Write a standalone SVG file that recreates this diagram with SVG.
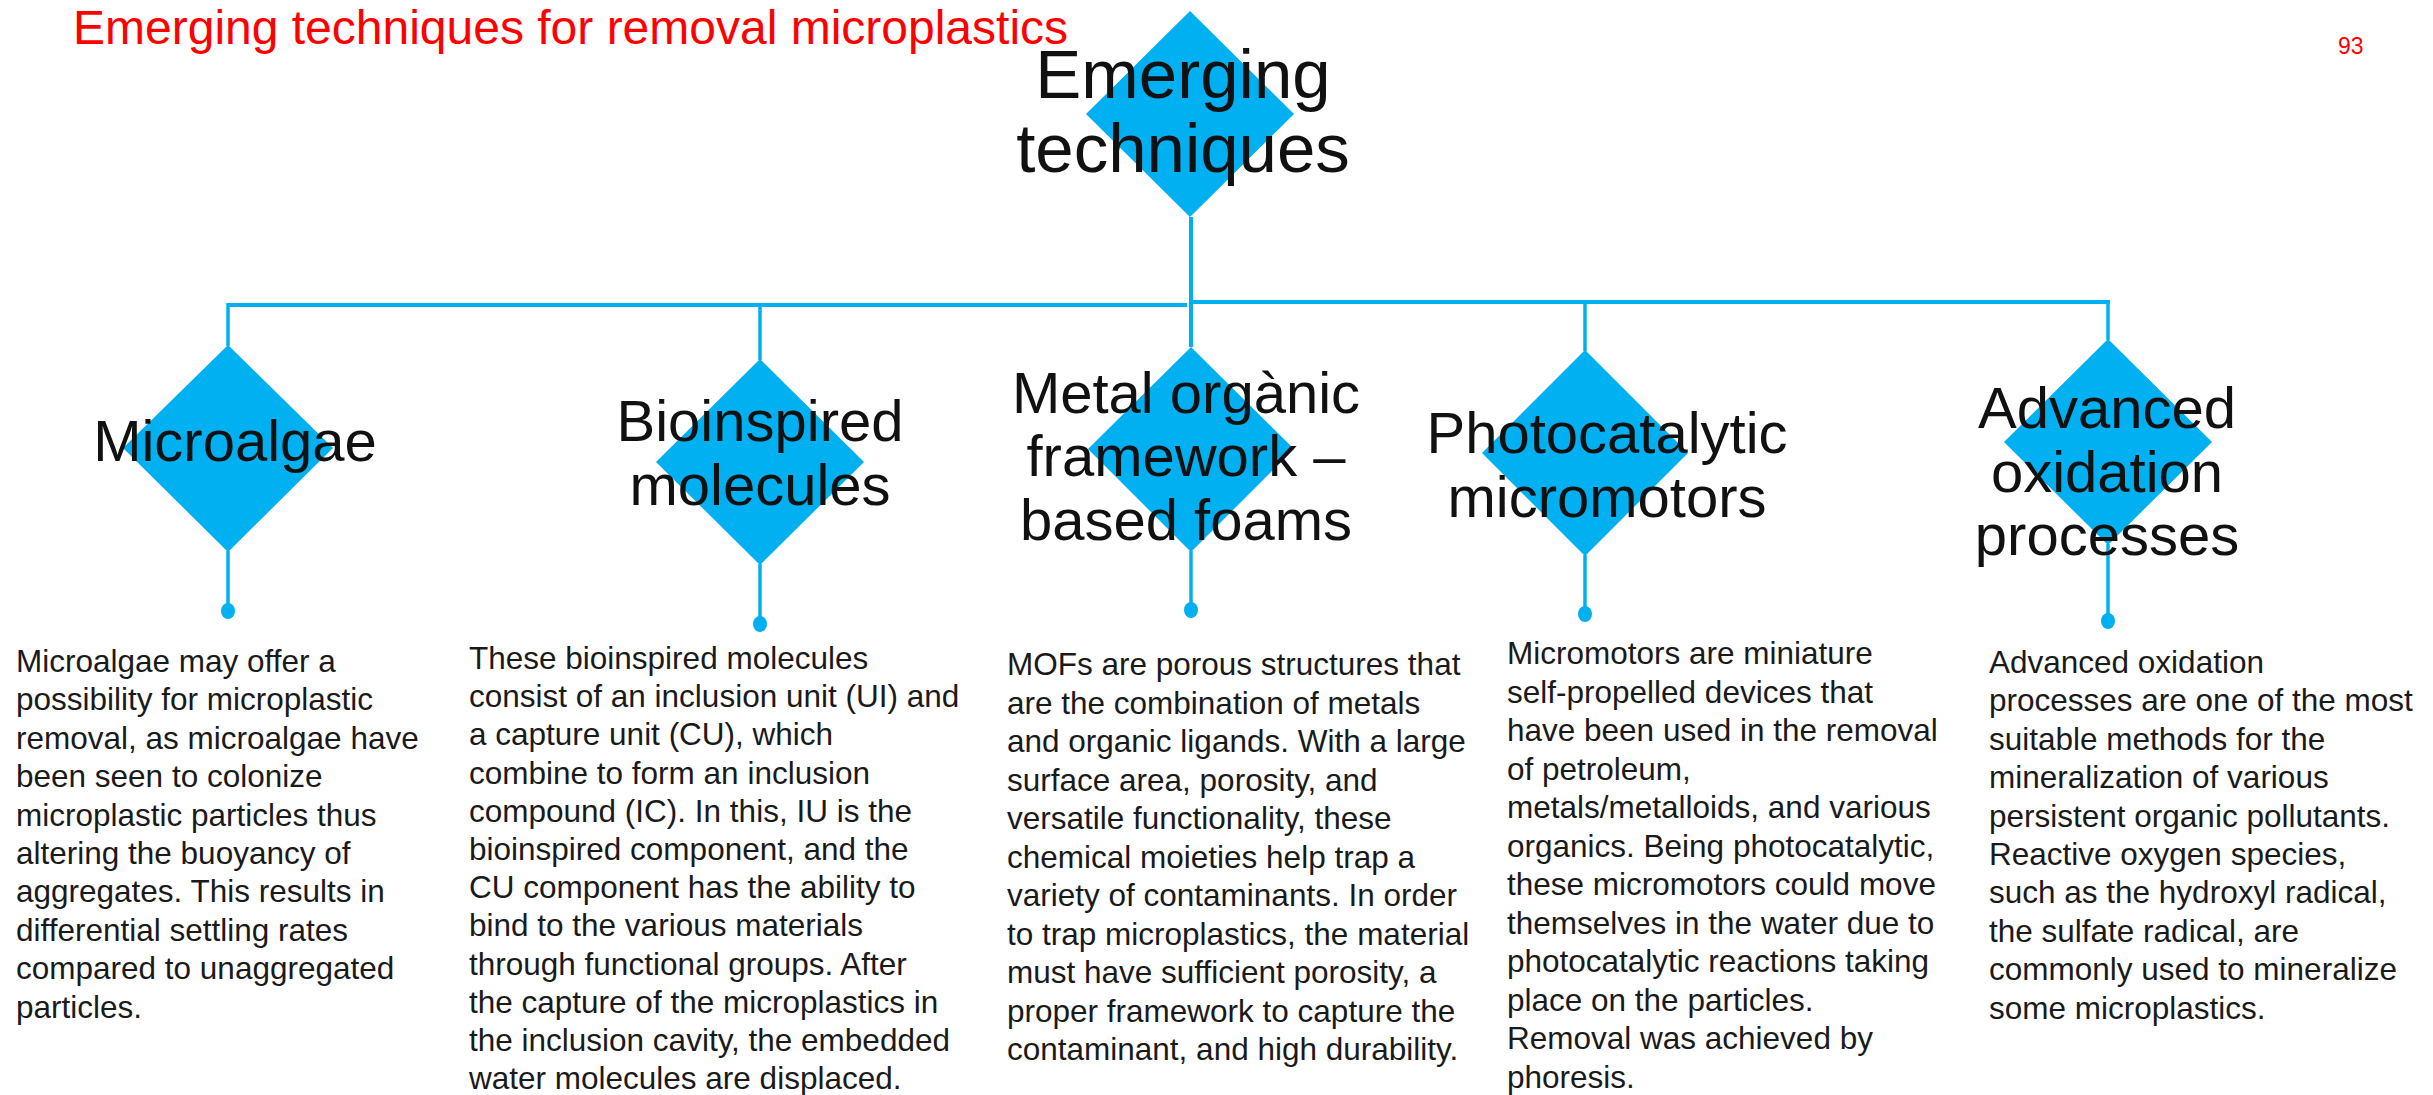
<svg xmlns="http://www.w3.org/2000/svg" width="2433" height="1095" viewBox="0 0 2433 1095">
  <style>
    .dia { fill: #00B0F0; }
    .ln { stroke: #00B0F0; stroke-width: 4; fill: none; }
    .st { stroke: #00B0F0; stroke-width: 3.5; fill: none; }
    .dot { fill: #00B0F0; }
    .lbl { font-family: "Liberation Sans", Arial, sans-serif; font-size: 58px; fill: #111; text-anchor: middle; }
    .top { font-family: "Liberation Sans", Arial, sans-serif; font-size: 69px; fill: #111; text-anchor: middle; }
    .body { font-family: "Liberation Sans", Arial, sans-serif; font-size: 31.5px; fill: #1a1a1a; }
    .red { font-family: "Liberation Sans", Arial, sans-serif; fill: #FF0000; }
  </style>
  <rect width="2433" height="1095" fill="#fff"/>

  <text class="red" x="73" y="44" font-size="48">Emerging techniques for removal microplastics</text>
  <text class="red" x="2338" y="54" font-size="23">93</text>

  <g id="connectors">
    <line class="ln" x1="1191" y1="217" x2="1191" y2="347"/>
    <line class="ln" x1="228" y1="305" x2="1187" y2="305"/>
    <line class="ln" x1="1189" y1="302" x2="2110" y2="302"/>
    <line class="st" x1="228" y1="303" x2="228" y2="346"/>
    <line class="st" x1="760" y1="303" x2="760" y2="360"/>
    <line class="st" x1="1585" y1="300" x2="1585" y2="351"/>
    <line class="st" x1="2108" y1="300" x2="2108" y2="340"/>
    <line class="st" x1="228" y1="551" x2="228" y2="611"/>
    <line class="st" x1="760" y1="564" x2="760" y2="624"/>
    <line class="st" x1="1191" y1="551" x2="1191" y2="610"/>
    <line class="st" x1="1585" y1="555" x2="1585" y2="614"/>
    <line class="st" x1="2108" y1="544" x2="2108" y2="621"/>
    <ellipse class="dot" cx="228" cy="611" rx="7" ry="8"/>
    <ellipse class="dot" cx="760" cy="624" rx="7" ry="8"/>
    <ellipse class="dot" cx="1191" cy="610" rx="7" ry="8"/>
    <ellipse class="dot" cx="1585" cy="614" rx="7" ry="8"/>
    <ellipse class="dot" cx="2108" cy="621" rx="7" ry="8"/>
  </g>

  <g id="node-emerging">
    <polygon class="dia" points="1190,11 1294,114 1190,217 1086,114"/>
    <text class="top"><tspan x="1183" y="98">Emerging</tspan><tspan x="1183" y="172">techniques</tspan></text>
  </g>

  <g id="node-microalgae">
    <polygon class="dia" points="228,345 333,448 228,552 123,448"/>
    <text class="lbl" x="235" y="461">Microalgae</text>
  </g>

  <g id="node-bioinspired">
    <polygon class="dia" points="760,359 864,462 760,565 656,462"/>
    <text class="lbl"><tspan x="760" y="441">Bioinspired</tspan><tspan x="760" y="505">molecules</tspan></text>
  </g>

  <g id="node-mof">
    <polygon class="dia" points="1191,347 1294,449 1191,552 1088,449"/>
    <text class="lbl"><tspan x="1186" y="413">Metal orgànic</tspan><tspan x="1186" y="476">framework –</tspan><tspan x="1186" y="540">based foams</tspan></text>
  </g>

  <g id="node-photocatalytic">
    <polygon class="dia" points="1585,350 1688,453 1585,556 1482,453"/>
    <text class="lbl"><tspan x="1607" y="453">Photocatalytic</tspan><tspan x="1607" y="517">micromotors</tspan></text>
  </g>

  <g id="node-aop">
    <polygon class="dia" points="2108,339 2212,442 2108,545 2004,442"/>
    <text class="lbl"><tspan x="2107" y="428">Advanced</tspan><tspan x="2107" y="492">oxidation</tspan><tspan x="2107" y="555">processes</tspan></text>
  </g>

  <g id="desc-microalgae">
    <text class="body">
      <tspan x="16" y="672">Microalgae may offer a</tspan>
      <tspan x="16" dy="38.4">possibility for microplastic</tspan>
      <tspan x="16" dy="38.4">removal, as microalgae have</tspan>
      <tspan x="16" dy="38.4">been seen to colonize</tspan>
      <tspan x="16" dy="38.4">microplastic particles thus</tspan>
      <tspan x="16" dy="38.4">altering the buoyancy of</tspan>
      <tspan x="16" dy="38.4">aggregates. This results in</tspan>
      <tspan x="16" dy="38.4">differential settling rates</tspan>
      <tspan x="16" dy="38.4">compared to unaggregated</tspan>
      <tspan x="16" dy="38.4">particles.</tspan>
    </text>
  </g>

  <g id="desc-bioinspired">
    <text class="body">
      <tspan x="469" y="669">These bioinspired molecules</tspan>
      <tspan x="469" dy="38.2">consist of an inclusion unit (UI) and</tspan>
      <tspan x="469" dy="38.2">a capture unit (CU), which</tspan>
      <tspan x="469" dy="38.2">combine to form an inclusion</tspan>
      <tspan x="469" dy="38.2">compound (IC). In this, IU is the</tspan>
      <tspan x="469" dy="38.2">bioinspired component, and the</tspan>
      <tspan x="469" dy="38.2">CU component has the ability to</tspan>
      <tspan x="469" dy="38.2">bind to the various materials</tspan>
      <tspan x="469" dy="38.2">through functional groups. After</tspan>
      <tspan x="469" dy="38.2">the capture of the microplastics in</tspan>
      <tspan x="469" dy="38.2">the inclusion cavity, the embedded</tspan>
      <tspan x="469" dy="38.2">water molecules are displaced.</tspan>
    </text>
  </g>

  <g id="desc-mof">
    <text class="body">
      <tspan x="1007" y="675">MOFs are porous structures that</tspan>
      <tspan x="1007" dy="38.5">are the combination of metals</tspan>
      <tspan x="1007" dy="38.5">and organic ligands. With a large</tspan>
      <tspan x="1007" dy="38.5">surface area, porosity, and</tspan>
      <tspan x="1007" dy="38.5">versatile functionality, these</tspan>
      <tspan x="1007" dy="38.5">chemical moieties help trap a</tspan>
      <tspan x="1007" dy="38.5">variety of contaminants. In order</tspan>
      <tspan x="1007" dy="38.5">to trap microplastics, the material</tspan>
      <tspan x="1007" dy="38.5">must have sufficient porosity, a</tspan>
      <tspan x="1007" dy="38.5">proper framework to capture the</tspan>
      <tspan x="1007" dy="38.5">contaminant, and high durability.</tspan>
    </text>
  </g>

  <g id="desc-photocatalytic">
    <text class="body">
      <tspan x="1507" y="664">Micromotors are miniature</tspan>
      <tspan x="1507" dy="38.5">self-propelled devices that</tspan>
      <tspan x="1507" dy="38.5">have been used in the removal</tspan>
      <tspan x="1507" dy="38.5">of petroleum,</tspan>
      <tspan x="1507" dy="38.5">metals/metalloids, and various</tspan>
      <tspan x="1507" dy="38.5">organics. Being photocatalytic,</tspan>
      <tspan x="1507" dy="38.5">these micromotors could move</tspan>
      <tspan x="1507" dy="38.5">themselves in the water due to</tspan>
      <tspan x="1507" dy="38.5">photocatalytic reactions taking</tspan>
      <tspan x="1507" dy="38.5">place on the particles.</tspan>
      <tspan x="1507" dy="38.5">Removal was achieved by</tspan>
      <tspan x="1507" dy="38.5">phoresis.</tspan>
    </text>
  </g>

  <g id="desc-aop">
    <text class="body">
      <tspan x="1989" y="673">Advanced oxidation</tspan>
      <tspan x="1989" dy="38.4">processes are one of the most</tspan>
      <tspan x="1989" dy="38.4">suitable methods for the</tspan>
      <tspan x="1989" dy="38.4">mineralization of various</tspan>
      <tspan x="1989" dy="38.4">persistent organic pollutants.</tspan>
      <tspan x="1989" dy="38.4">Reactive oxygen species,</tspan>
      <tspan x="1989" dy="38.4">such as the hydroxyl radical,</tspan>
      <tspan x="1989" dy="38.4">the sulfate radical, are</tspan>
      <tspan x="1989" dy="38.4">commonly used to mineralize</tspan>
      <tspan x="1989" dy="38.4">some microplastics.</tspan>
    </text>
  </g>
</svg>
